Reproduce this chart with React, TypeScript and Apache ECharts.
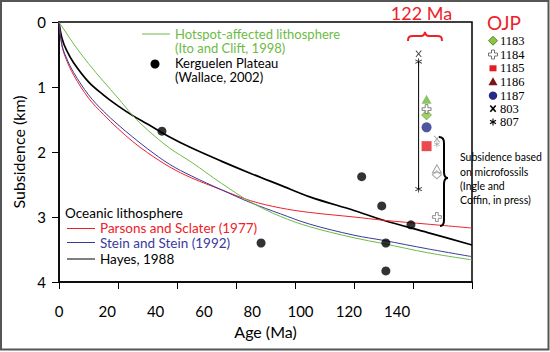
import React, { useEffect, useRef } from "react";
import * as echarts from "echarts";

// ---- Data ----
const ages = [0, 1, 2.5, 5, 10, 15, 20, 25, 30, 37.5, 45, 55, 65, 75, 85, 100, 110, 125, 140];
const hayes1988 = [0, 0.25, 0.43, 0.63, 0.92, 1.12, 1.29, 1.44, 1.57, 1.77, 1.94, 2.14, 2.33, 2.51, 2.69, 2.9, 3.05, 3.24, 3.43];
const parsonsSclater = [0, 0.37, 0.58, 0.82, 1.17, 1.42, 1.64, 1.84, 2.01, 2.23, 2.4, 2.58, 2.75, 2.86, 2.93, 3.0, 3.05, 3.11, 3.17];
const steinStein = [0, 0.35, 0.55, 0.78, 1.12, 1.37, 1.58, 1.77, 1.95, 2.19, 2.37, 2.58, 2.78, 2.95, 3.11, 3.28, 3.36, 3.49, 3.61];
const itoClift = [0, 0.07, 0.17, 0.34, 0.64, 0.91, 1.17, 1.44, 1.66, 1.94, 2.16, 2.48, 2.77, 2.99, 3.15, 3.32, 3.41, 3.55, 3.66];

const kerguelenAge = [34.9, 102.6, 109.4, 119.3, 110.8, 110.8, 68.5];
const kerguelenSub = [1.68, 2.38, 2.83, 3.12, 3.4, 3.83, 3.4];

const ojpAge = 124.6;
const site1186 = [1.19];
const site1184 = [1.34];
const site1183 = [1.43];
const site1187 = [1.62];
const site1185 = [1.91];
const site803Age = 121.9;
const site803 = [0.49];
const site807Range = [0.61, 2.57];

const fossilAge = 128.1;
const fossilX = [1.8];
const fossilStar = [1.88];
const fossilTri = [2.26];
const fossilDia = [2.35];
const fossilCross = [3.0];

const xTicks = [0, 20, 40, 60, 80, 100, 120, 140];
const yTicks = [0, 1, 2, 3, 4];
const ojpSites = ["1183", "1184", "1185", "1186", "1187", "803", "807"];
// ---------------------------------------

const SANS = "Lato, 'Noto Sans', sans-serif";
const SERIF = "'Liberation Serif', 'DejaVu Serif', serif";
const RED = "#ee2128";
const BLUE = "#3a3a9e";
const GREEN = "#6dbb45";
const NAVY = "#262a87";

const symX = "path://M0,1 L1,0 L5,4 L9,0 L10,1 L6,5 L10,9 L9,10 L5,6 L1,10 L0,9 L4,5 Z";
const symStar =
  "path://M4.4,0 L5.6,0 L5.6,10 L4.4,10 Z M0.97,1.98 L9.63,6.98 L9.03,8.02 L0.37,3.02 Z M0.37,6.98 L9.03,1.98 L9.63,3.02 L0.97,8.02 Z";
const symCross =
  "path://M3.5,0 L6.5,0 L6.5,3.5 L10,3.5 L10,6.5 L6.5,6.5 L6.5,10 L3.5,10 L3.5,6.5 L0,6.5 L0,3.5 L3.5,3.5 Z";

let registered = false;
function registerShapes() {
  if (registered) return;
  registered = true;
  echarts.graphic.registerShape(
    "redBrace",
    echarts.graphic.extendPath(
      "M408,41 C408,37 409,36 413,36 L421,36 C423,36 424.5,35 425,32 C425.5,35 427,36 429,36 L437,36 C441,36 442,37 442,41",
      {}
    )
  );
  echarts.graphic.registerShape(
    "blackBrace",
    echarts.graphic.extendPath(
      "M439,137 C442,137 444,139 444,143 L444,172 C444,176 445,178 448,178 C445,178 444,180 444,184 L444,220 C444,224 443,226 440,226",
      {}
    )
  );
}

function line(data: number[], ageList: number[]) {
  return data.map((v, i) => [ageList[i], v]);
}

export default function App() {
  const ref = useRef<HTMLDivElement>(null);
  useEffect(() => {
    if (!ref.current) return;
    registerShapes();
    const chart = echarts.init(ref.current, null, { renderer: "svg" });

    const scatter = (name: string, data: number[][], symbol: string, size: any, itemStyle: any, z = 5) => ({
      name,
      type: "scatter",
      xAxisIndex: 0,
      yAxisIndex: 0,
      data,
      symbol,
      symbolSize: size,
      itemStyle,
      z,
    });

    const legendY = [40.7, 54.5, 68.3, 81.8, 95.6, 108.6, 122];
    const lx = 493;
    const legendMarkers: any[] = [
      { type: "polygon", shape: { points: [[lx, legendY[0] - 4.5], [lx + 4.5, legendY[0]], [lx, legendY[0] + 4.5], [lx - 4.5, legendY[0]]] }, style: { fill: "#8cc63f", stroke: "#3d6b22", lineWidth: 0.8 } },
      {
        type: "polygon",
        shape: {
          points: [
            [lx - 1.5, legendY[1] - 4.5], [lx + 1.5, legendY[1] - 4.5], [lx + 1.5, legendY[1] - 1.5], [lx + 4.5, legendY[1] - 1.5],
            [lx + 4.5, legendY[1] + 1.5], [lx + 1.5, legendY[1] + 1.5], [lx + 1.5, legendY[1] + 4.5], [lx - 1.5, legendY[1] + 4.5],
            [lx - 1.5, legendY[1] + 1.5], [lx - 4.5, legendY[1] + 1.5], [lx - 4.5, legendY[1] - 1.5], [lx - 1.5, legendY[1] - 1.5],
          ],
        },
        style: { fill: "#fff", stroke: "#555", lineWidth: 0.8 },
      },
      { type: "rect", shape: { x: lx - 3.5, y: legendY[2] - 3, width: 7, height: 6 }, style: { fill: "#e31b23" } },
      { type: "polygon", shape: { points: [[lx, legendY[3] - 4.5], [lx + 4.5, legendY[3] + 3.5], [lx - 4.5, legendY[3] + 3.5]] }, style: { fill: "#7a1416" } },
      { type: "circle", shape: { cx: lx, cy: legendY[4], r: 4.2 }, style: { fill: NAVY } },
      { type: "line", shape: { x1: lx - 2.7, y1: legendY[5] - 3.2, x2: lx + 2.7, y2: legendY[5] + 3.2 }, style: { stroke: "#000", lineWidth: 1.6 } },
      { type: "line", shape: { x1: lx + 2.7, y1: legendY[5] - 3.2, x2: lx - 2.7, y2: legendY[5] + 3.2 }, style: { stroke: "#000", lineWidth: 1.6 } },
      { type: "line", shape: { x1: lx, y1: legendY[6] - 3.5, x2: lx, y2: legendY[6] + 3.5 }, style: { stroke: "#000", lineWidth: 1.1 } },
      { type: "line", shape: { x1: lx - 3, y1: legendY[6] - 1.75, x2: lx + 3, y2: legendY[6] + 1.75 }, style: { stroke: "#000", lineWidth: 1.1 } },
      { type: "line", shape: { x1: lx - 3, y1: legendY[6] + 1.75, x2: lx + 3, y2: legendY[6] - 1.75 }, style: { stroke: "#000", lineWidth: 1.1 } },
    ];
    const legendTexts = ojpSites.map((s, i) => ({
      type: "text",
      x: 500,
      y: legendY[i],
      style: { text: s, font: `12.5px ${SERIF}`, fill: "#000", textVerticalAlign: "middle", verticalAlign: "middle" },
    }));

    const txt = (text: string, x: number, y: number, size: number, color: string, extra: any = {}) => ({
      type: "text",
      x,
      y,
      style: { text, font: `${size}px ${SANS}`, fill: color, verticalAlign: "middle", textVerticalAlign: "middle", ...extra },
      z: 20,
    });

    const option: any = {
      animation: false,
      backgroundColor: "#fff",
      grid: { left: 59, top: 22, width: 413, height: 260, show: true, borderColor: "#000", borderWidth: 1.5, containLabel: false },
      xAxis: [
        {
          type: "value",
          min: 0,
          max: 140,
          interval: 20,
          position: "bottom",
          axisLine: { show: true, onZero: false, lineStyle: { color: "#000", width: 1.5 } },
          axisTick: { show: true, inside: false, length: 7, lineStyle: { color: "#000", width: 1 } },
          axisLabel: { show: false },
          splitLine: { show: false },
          name: "Age (Ma)",
          nameLocation: "middle",
          nameGap: 41,
          nameTextStyle: { fontSize: 16, color: "#000", fontFamily: SANS },
        },
        {
          type: "value",
          min: 0,
          max: 171,
          interval: 20,
          position: "bottom",
          axisLine: { show: false },
          axisTick: { show: false },
          splitLine: { show: false },
          axisLabel: {
            show: true,
            margin: 21,
            color: "#000",
            fontSize: 15,
            fontFamily: SANS,
            formatter: (v: number) => (xTicks.indexOf(v) >= 0 ? String(v) : ""),
          },
        },
      ],
      yAxis: {
        type: "value",
        min: 0,
        max: 4,
        interval: 1,
        inverse: true,
        axisLine: { show: true, lineStyle: { color: "#000", width: 1.5 } },
        axisTick: { show: true, inside: false, length: 7, lineStyle: { color: "#000", width: 1 } },
        axisLabel: {
          color: "#000",
          fontSize: 15,
          fontFamily: SANS,
          margin: 13,
          formatter: (v: number) => (yTicks.indexOf(v) >= 0 ? String(v) : ""),
        },
        splitLine: { show: false },
        name: "Subsidence (km)",
        nameLocation: "middle",
        nameRotate: 90,
        nameGap: 26,
        nameTextStyle: { fontSize: 16, color: "#000", fontFamily: SANS },
      },
      series: [
        { name: "Hayes, 1988", type: "line", data: line(hayes1988, ages), smooth: 0.35, symbol: "none", lineStyle: { color: "#000", width: 1.7 }, z: 3 },
        { name: "Parsons and Sclater (1977)", type: "line", data: line(parsonsSclater, ages), smooth: 0.35, symbol: "none", lineStyle: { color: RED, width: 1 }, z: 3 },
        { name: "Stein and Stein (1992)", type: "line", data: line(steinStein, ages), smooth: 0.35, symbol: "none", lineStyle: { color: BLUE, width: 1 }, z: 3 },
        { name: "Ito and Clift, 1998", type: "line", data: line(itoClift, ages), smooth: 0.35, symbol: "none", lineStyle: { color: GREEN, width: 1 }, z: 3 },
        scatter("Kerguelen Plateau", kerguelenAge.map((a, i) => [a, kerguelenSub[i]]), "circle", 9, { color: "#000" }),
        {
          name: "807 range",
          type: "line",
          data: [[site803Age, site807Range[0]], [site803Age, site807Range[1]]],
          symbol: "none",
          lineStyle: { color: "#000", width: 1 },
          z: 4,
        },
        scatter("807", site807Range.map((v) => [site803Age, v]), symStar, 7, { color: "#000" }),
        scatter("803", site803.map((v) => [site803Age, v]), symX, [6, 7], { color: "#000" }),
        scatter("1186", site1186.map((v) => [ojpAge, v]), "triangle", [10, 9], { color: "#6fb43f" }),
        scatter("1184", site1184.map((v) => [ojpAge, v]), symCross, 9, { color: "#fff", borderColor: "#666", borderWidth: 1 }, 6),
        scatter("1183", site1183.map((v) => [ojpAge, v]), "diamond", [10, 10], { color: "#8cc63f", borderColor: "#4f7f2f", borderWidth: 0.6 }, 5),
        scatter("1187", site1187.map((v) => [ojpAge, v]), "circle", 10, { color: NAVY }),
        scatter("1185", site1185.map((v) => [ojpAge, v]), "rect", [10, 10], { color: "#e31b23" }),
        scatter("803 fossil", fossilX.map((v) => [fossilAge, v]), symX, [6, 7], { color: "#8a8a8a" }),
        scatter("807 fossil", fossilStar.map((v) => [fossilAge, v]), symStar, 6, { color: "#8a8a8a" }),
        scatter("tri fossil", fossilTri.map((v) => [fossilAge, v]), "triangle", [9, 8], { color: "#fff", borderColor: "#888", borderWidth: 1 }),
        scatter("dia fossil", fossilDia.map((v) => [fossilAge, v]), "diamond", [9, 8], { color: "rgba(255,255,255,0)", borderColor: "#888", borderWidth: 1 }),
        scatter("cross fossil", fossilCross.map((v) => [fossilAge, v]), symCross, 9, { color: "#fff", borderColor: "#777", borderWidth: 1 }),
      ],
      graphic: [
        { type: "rect", shape: { x: 1, y: 1, width: 547.5, height: 348.5 }, style: { fill: "none", stroke: "#555", lineWidth: 2 }, z: 30 },
        { type: "line", shape: { x1: 142, y1: 34, x2: 170, y2: 34 }, style: { stroke: GREEN, lineWidth: 1 } },
        txt("Hotspot-affected lithosphere", 175, 33.5, 13, GREEN),
        txt("(Ito and Clift, 1998)", 175, 48, 13, GREEN),
        { type: "circle", shape: { cx: 155, cy: 64, r: 4.5 }, style: { fill: "#000" } },
        txt("Kerguelen Plateau", 175, 62.5, 13, "#000"),
        txt("(Wallace, 2002)", 175, 77, 13, "#000"),
        txt("Oceanic lithosphere", 65, 212.5, 13.5, "#000"),
        { type: "line", shape: { x1: 67, y1: 228.5, x2: 95, y2: 228.5 }, style: { stroke: RED, lineWidth: 1 } },
        txt("Parsons and Sclater (1977)", 100, 228, 13.5, RED),
        { type: "line", shape: { x1: 67, y1: 242.5, x2: 95, y2: 242.5 }, style: { stroke: BLUE, lineWidth: 1 } },
        txt("Stein and Stein (1992)", 100, 242.5, 13.5, BLUE),
        { type: "line", shape: { x1: 67, y1: 259, x2: 95, y2: 259 }, style: { stroke: "#000", lineWidth: 1 } },
        txt("Hayes, 1988", 100, 259, 13.5, "#000"),
        txt("122 Ma", 421.5, 13, 18, RED, { align: "center", textAlign: "center" }),
        txt("OJP", 504, 22.5, 19, RED, { align: "center", textAlign: "center" }),
        { type: "redBrace", style: { fill: "none", stroke: RED, lineWidth: 2 }, z: 20 },
        { type: "blackBrace", style: { fill: "none", stroke: "#000", lineWidth: 2 }, z: 20 },
        txt("Subsidence based", 460, 157, 10.5, "#000"),
        txt("on microfossils", 460, 171.5, 10.5, "#000"),
        txt("(Ingle and", 460, 186, 10.5, "#000"),
        txt("Coffin, in press)", 460, 200, 10.5, "#000"),
        ...legendMarkers,
        ...legendTexts,
      ],
    };
    chart.setOption(option);
    return () => chart.dispose();
  }, []);
  return <div ref={ref} style={{ position: "absolute", left: 0, top: 0, width: 550, height: 352 }} />;
}
